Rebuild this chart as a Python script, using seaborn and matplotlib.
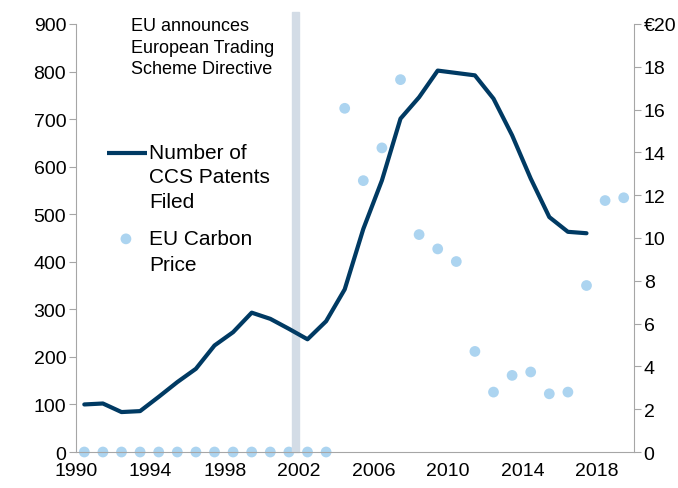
import matplotlib
matplotlib.use("Agg")
import matplotlib.pyplot as plt
import seaborn as sns
import pandas as pd
from matplotlib.ticker import FuncFormatter

# data
patent_years = list(range(1990, 2018))
patents = [100, 102, 84, 86, 116, 147, 175, 224, 252, 293, 280, 259, 237, 275,
           342, 469, 571, 701, 746, 802, 797, 792, 743, 666, 575, 494, 463, 460]
price_years = list(range(1990, 2020))
carbon_price = [0] * 14 + [16.06, 12.68, 14.21, 17.40, 10.16, 9.49, 8.90, 4.70,
                           2.80, 3.58, 3.74, 2.72, 2.80, 7.78, 11.75, 11.88]
x_ticks = [1990, 1994, 1998, 2002, 2006, 2010, 2014, 2018]

line_color = "#003a63"
dot_color = "#acd4f0"
axis_gray = "#a6a6a6"

sns.set_style("white")
plt.rcParams["font.family"] = ["Liberation Sans", "DejaVu Sans"]
plt.rcParams["text.color"] = "black"

pat = pd.DataFrame({"x": [y + 0.45 for y in patent_years], "patents": patents})
prc = pd.DataFrame({"x": [y + 0.45 for y in price_years], "price": carbon_price})

fig = plt.figure(figsize=(6.78, 4.89), dpi=100)
ax = fig.add_axes([0.112, 0.0736, 0.823, 0.8753])
ax2 = ax.twinx()

# event band
ax.axvspan(2001.6, 2002.0, ymin=0, ymax=1.028, color="#d3dce6", clip_on=False, zorder=0)

sns.lineplot(data=pat, x="x", y="patents", ax=ax, color=line_color, lw=3, zorder=3)
sns.scatterplot(data=prc, x="x", y="price", ax=ax2, color=dot_color, s=60,
                edgecolor="none", clip_on=False, zorder=2)

ax.set_xlim(1990, 2020)
ax.set_ylim(0, 900)
ax.set_yticks(range(0, 901, 100))
ax.set_xticks(x_ticks)
ax2.set_ylim(0, 20)
ax2.set_yticks(range(0, 21, 2))
ax2.yaxis.set_major_formatter(FuncFormatter(lambda v, p: "€20" if v == 20 else f"{v:.0f}"))

for a in (ax, ax2):
    a.set_xlabel("")
    a.set_ylabel("")
    a.spines["top"].set_visible(False)
    for s in ("left", "right", "bottom"):
        a.spines[s].set_color(axis_gray)
    a.tick_params(axis="both", direction="out", length=5, color=axis_gray,
                  labelsize=14, labelcolor="black", pad=2)
ax.spines["right"].set_visible(False)
ax2.spines["left"].set_visible(False)
ax2.spines["bottom"].set_visible(False)
ax.set_zorder(ax2.get_zorder() + 1)
ax.patch.set_visible(False)

# legend, drawn by hand so the keys sit on the first line of each label
tr = ax.transAxes
ax.plot([0.055, 0.128], [0.699, 0.699], transform=tr, color=line_color, lw=3,
        clip_on=False, solid_capstyle="butt")
for yy, txt in zip([0.699, 0.643, 0.586], ["Number of", "CCS Patents", "Filed"]):
    ax.text(0.131, yy, txt, transform=tr, fontsize=15, va="center", ha="left")
ax.scatter([0.0896], [0.498], transform=tr, s=60, color=dot_color,
           edgecolor="none", clip_on=False)
for yy, txt in zip([0.498, 0.437], ["EU Carbon", "Price"]):
    ax.text(0.131, yy, txt, transform=tr, fontsize=15, va="center", ha="left")

fig.text(0.193, 0.963, "EU announces\nEuropean Trading\nScheme Directive",
         fontsize=13, va="top", ha="left", linespacing=1.35)

fig.savefig("out.png", dpi=100)
